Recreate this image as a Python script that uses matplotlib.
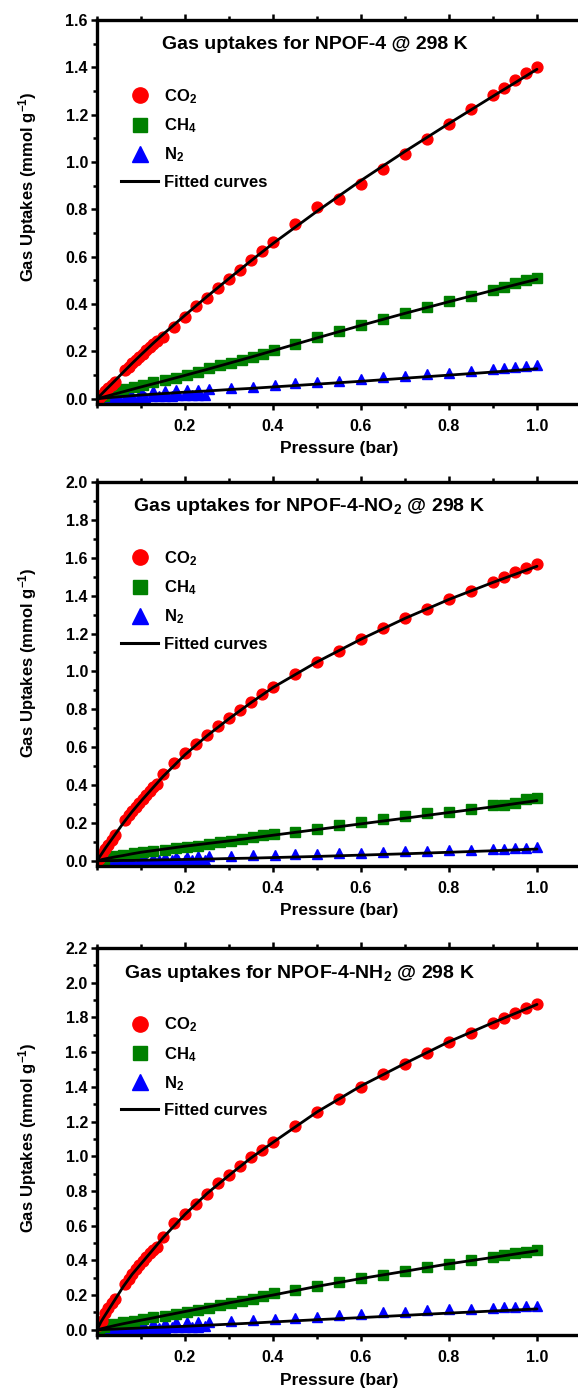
import matplotlib
matplotlib.use("Agg")
import matplotlib.pyplot as plt
from matplotlib.lines import Line2D
from matplotlib.ticker import MultipleLocator

plt.rcParams['font.family'] = ['Liberation Sans', 'DejaVu Sans']
plt.rcParams['font.weight'] = 'bold'
plt.rcParams['mathtext.fontset'] = 'custom'
plt.rcParams['mathtext.rm'] = 'Liberation Sans:bold'
plt.rcParams['mathtext.it'] = 'Liberation Sans:bold'
plt.rcParams['mathtext.bf'] = 'Liberation Sans:bold'

# pressure points (bar)
p_co2 = [0.005, 0.012, 0.019, 0.026, 0.033, 0.04, 0.064, 0.072, 0.08, 0.088, 0.096, 0.104,
         0.112, 0.12, 0.128, 0.136, 0.15, 0.175, 0.2, 0.225, 0.25, 0.275, 0.3, 0.325, 0.35,
         0.375, 0.4, 0.45, 0.5, 0.55, 0.6, 0.65, 0.7, 0.75, 0.8, 0.85, 0.9, 0.925, 0.95,
         0.975, 1.0]
p_ch4 = [0.005, 0.015, 0.037, 0.06, 0.083, 0.105, 0.128, 0.155, 0.18, 0.205, 0.23, 0.255,
         0.28, 0.305, 0.33, 0.355, 0.378, 0.403, 0.45, 0.5, 0.55, 0.6, 0.65, 0.7, 0.75, 0.8,
         0.85, 0.9, 0.925, 0.95, 0.975, 1.0]
p_n2 = [0.014, 0.033, 0.052, 0.075, 0.1, 0.128, 0.155, 0.18, 0.205, 0.23, 0.255, 0.305,
        0.355, 0.405, 0.45, 0.5, 0.55, 0.6, 0.65, 0.7, 0.75, 0.8, 0.85, 0.9, 0.925, 0.95,
        0.975, 1.0]
p_n2_low = [0.005, 0.02, 0.035, 0.05, 0.065, 0.08, 0.095, 0.11, 0.125, 0.14, 0.155, 0.17,
            0.185, 0.2, 0.215, 0.23, 0.245]
p_fit = [0, 0.01, 0.02, 0.04, 0.06, 0.08, 0.1, 0.125, 0.15, 0.2, 0.25, 0.3, 0.35, 0.4,
         0.5, 0.6, 0.7, 0.8, 0.9, 1.0]

# NPOF-4
co2_a = [0.004, 0.018, 0.031, 0.045, 0.059, 0.07, 0.122, 0.136, 0.15, 0.164, 0.178, 0.191,
         0.205, 0.218, 0.231, 0.243, 0.263, 0.305, 0.347, 0.393, 0.427, 0.467, 0.505, 0.545,
         0.587, 0.625, 0.664, 0.739, 0.81, 0.844, 0.908, 0.971, 1.034, 1.096, 1.159, 1.223,
         1.283, 1.311, 1.347, 1.378, 1.403]
ch4_a = [0.003, 0.01, 0.031, 0.041, 0.049, 0.059, 0.069, 0.08, 0.087, 0.101, 0.115, 0.13,
         0.144, 0.153, 0.165, 0.176, 0.19, 0.207, 0.232, 0.26, 0.287, 0.312, 0.338, 0.362,
         0.387, 0.414, 0.436, 0.46, 0.474, 0.488, 0.5, 0.512]
n2_a = [0.02, 0.025, 0.028, 0.03, 0.032, 0.034, 0.035, 0.036, 0.038, 0.039, 0.041, 0.045,
        0.049, 0.057, 0.066, 0.07, 0.077, 0.083, 0.09, 0.097, 0.104, 0.111, 0.118, 0.127,
        0.13, 0.135, 0.139, 0.141]
n2_low_a = [0.002, 0.003, 0.004, 0.005, 0.006, 0.007, 0.008, 0.009, 0.01, 0.011, 0.012,
            0.013, 0.014, 0.015, 0.016, 0.017, 0.018]
co2_fit_a = [0, 0.019, 0.038, 0.075, 0.113, 0.15, 0.186, 0.23, 0.272, 0.353, 0.432, 0.508,
             0.583, 0.656, 0.792, 0.922, 1.045, 1.163, 1.278, 1.392]
ch4_fit_a = [0, 0.005, 0.01, 0.02, 0.03, 0.04, 0.05, 0.062, 0.074, 0.099, 0.124, 0.15,
             0.176, 0.203, 0.257, 0.31, 0.361, 0.41, 0.458, 0.505]
n2_fit_a = [0, 0.002, 0.004, 0.007, 0.01, 0.013, 0.016, 0.019, 0.022, 0.028, 0.033, 0.039,
            0.044, 0.05, 0.062, 0.074, 0.087, 0.1, 0.113, 0.127]

# NPOF-4-NO2
co2_b = [0.012, 0.035, 0.06, 0.085, 0.11, 0.137, 0.215, 0.24, 0.262, 0.285, 0.307, 0.328,
         0.35, 0.37, 0.388, 0.405, 0.459, 0.515, 0.568, 0.617, 0.665, 0.71, 0.755, 0.797,
         0.838, 0.88, 0.918, 0.985, 1.048, 1.11, 1.171, 1.228, 1.281, 1.331, 1.381, 1.426,
         1.474, 1.497, 1.523, 1.548, 1.567]
ch4_b = [0.003, 0.012, 0.025, 0.032, 0.04, 0.046, 0.054, 0.058, 0.067, 0.072, 0.079, 0.088,
         0.097, 0.107, 0.116, 0.125, 0.134, 0.14, 0.151, 0.169, 0.19, 0.204, 0.222, 0.239,
         0.252, 0.26, 0.273, 0.292, 0.296, 0.304, 0.326, 0.334]
n2_b = [0.008, 0.01, 0.012, 0.013, 0.015, 0.016, 0.018, 0.02, 0.021, 0.023, 0.024, 0.027,
        0.029, 0.032, 0.034, 0.036, 0.04, 0.042, 0.046, 0.05, 0.053, 0.056, 0.059, 0.063,
        0.064, 0.068, 0.07, 0.073]
n2_low_b = [0.0, 0.0, 0.0, 0.001, 0.001, 0.001, 0.001, 0.002, 0.002, 0.002, 0.002, 0.003,
            0.003, 0.003, 0.003, 0.004, 0.004]
co2_fit_b = [0, 0.035, 0.07, 0.135, 0.2, 0.26, 0.315, 0.38, 0.445, 0.56, 0.66, 0.75, 0.835,
             0.915, 1.05, 1.17, 1.28, 1.38, 1.47, 1.555]
ch4_fit_b = [0, 0.006, 0.011, 0.02, 0.028, 0.037, 0.045, 0.053, 0.061, 0.077, 0.091, 0.105,
             0.12, 0.135, 0.165, 0.195, 0.225, 0.255, 0.285, 0.318]
n2_fit_b = [0, 0, 0.001, 0.001, 0.002, 0.002, 0.003, 0.004, 0.005, 0.007, 0.009, 0.012,
            0.014, 0.017, 0.023, 0.03, 0.037, 0.045, 0.053, 0.062]

# NPOF-4-NH2
co2_c = [0.025, 0.05, 0.096, 0.125, 0.155, 0.175, 0.265, 0.295, 0.322, 0.35, 0.372, 0.395,
         0.418, 0.44, 0.458, 0.478, 0.536, 0.613, 0.667, 0.724, 0.785, 0.843, 0.891, 0.945,
         0.996, 1.034, 1.08, 1.172, 1.255, 1.328, 1.398, 1.471, 1.533, 1.594, 1.661, 1.711,
         1.769, 1.797, 1.826, 1.855, 1.878]
ch4_c = [0.005, 0.015, 0.032, 0.042, 0.052, 0.061, 0.071, 0.08, 0.088, 0.103, 0.112, 0.128,
         0.14, 0.155, 0.165, 0.178, 0.192, 0.21, 0.23, 0.253, 0.278, 0.301, 0.316, 0.341,
         0.36, 0.377, 0.402, 0.421, 0.43, 0.44, 0.45, 0.46]
n2_c = [0.015, 0.02, 0.025, 0.03, 0.035, 0.037, 0.04, 0.042, 0.043, 0.045, 0.046, 0.05,
        0.055, 0.06, 0.068, 0.075, 0.085, 0.09, 0.1, 0.105, 0.112, 0.117, 0.122, 0.128,
        0.13, 0.132, 0.134, 0.137]
n2_low_c = [0.001, 0.002, 0.003, 0.004, 0.005, 0.006, 0.008, 0.009, 0.01, 0.011, 0.012,
            0.013, 0.015, 0.016, 0.017, 0.018, 0.019]
co2_fit_c = [0, 0.05, 0.09, 0.17, 0.25, 0.32, 0.38, 0.455, 0.53, 0.665, 0.785, 0.89, 0.99,
             1.08, 1.255, 1.405, 1.535, 1.66, 1.77, 1.875]
ch4_fit_c = [0, 0.006, 0.012, 0.024, 0.035, 0.045, 0.055, 0.067, 0.08, 0.105, 0.13, 0.155,
             0.178, 0.2, 0.25, 0.295, 0.337, 0.38, 0.417, 0.455]
n2_fit_c = [0, 0.001, 0.002, 0.004, 0.006, 0.008, 0.01, 0.013, 0.015, 0.02, 0.026, 0.032,
            0.038, 0.045, 0.058, 0.07, 0.083, 0.096, 0.108, 0.12]

titles = ['Gas uptakes for NPOF-4 @ 298 K',
          'Gas uptakes for NPOF-4-NO$_2$ @ 298 K',
          'Gas uptakes for NPOF-4-NH$_2$ @ 298 K']
y_tops = [1.6, 2.0, 2.2]

RED, GREEN, BLUE = '#ff0000', '#008000', '#0000ff'

W, H = 578, 1389
fig = plt.figure(figsize=(W / 100, H / 100), dpi=100)

# axes boxes in pixels: left, top, bottom
boxes = [(97, 20, 404), (97, 482, 866), (97, 948, 1335)]
title_x = [0.134, 0.074, 0.056]
ylabel_y = [0.565, 0.53, 0.51]


def draw_panel(ax, co2, ch4, n2, n2_low, co2_fit, ch4_fit, n2_fit, title, ytop, tx, ly):
    ax.plot(p_n2_low, n2_low, ls='none', marker='^', ms=7, color=BLUE, mec=BLUE)
    ax.plot(p_n2, n2, ls='none', marker='^', ms=7.5, color=BLUE, mec=BLUE)
    ax.plot(p_ch4, ch4, ls='none', marker='s', ms=6.8, color=GREEN, mec=GREEN)
    ax.plot(p_co2, co2, ls='none', marker='o', ms=7.8, color=RED, mec=RED)
    for fit in (co2_fit, ch4_fit, n2_fit):
        ax.plot(p_fit, fit, color='black', lw=2.0, solid_capstyle='round')

    ax.set_xlim(0, 1.1)
    ax.set_ylim(-0.022 * ytop / 1.6, ytop)
    ax.xaxis.set_minor_locator(MultipleLocator(0.1))
    ax.yaxis.set_major_locator(MultipleLocator(0.2))
    ax.yaxis.set_minor_locator(MultipleLocator(0.1))
    ax.set_xticks([0.2, 0.4, 0.6, 0.8, 1.0])
    ax.set_xticklabels(['0.2', '0.4', '0.6', '0.8', '1.0'])
    ax.set_yticklabels([f'{v:.1f}' for v in ax.get_yticks()])
    ax.tick_params(axis='both', which='major', direction='out', length=4, width=1.8,
                   labelsize=11.5, top=True, right=False)
    ax.tick_params(axis='both', which='minor', direction='out', length=3, width=1.8,
                   top=True, right=False)
    ax.tick_params(axis='x', which='major', pad=7)
    ax.tick_params(axis='y', which='major', pad=2.5)
    ax.spines['right'].set_visible(False)
    for s in ('left', 'top', 'bottom'):
        ax.spines[s].set_linewidth(2.4)

    ax.set_xlabel('Pressure (bar)', fontsize=12.5, fontweight='bold')
    ax.set_ylabel('Gas Uptakes (mmol g$^{-1}$)', fontsize=12, fontweight='bold')
    ax.xaxis.set_label_coords(0.5, -0.097)
    ax.yaxis.set_label_coords(-0.12, ly)

    ax.text(tx, 0.935, title, transform=ax.transAxes, ha='left', va='center',
            fontsize=14, fontweight='bold')

    handles = [
        Line2D([], [], ls='none', marker='o', ms=11, color=RED),
        Line2D([], [], ls='none', marker='s', ms=9.5, color=GREEN),
        Line2D([], [], ls='none', marker='^', ms=11, color=BLUE),
        Line2D([], [], color='black', lw=2.2),
    ]
    labels = ['CO$_2$', 'CH$_4$', 'N$_2$', 'Fitted curves']
    ax.legend(handles, labels, loc='upper left', bbox_to_anchor=(0.05, 0.825),
              frameon=False, fontsize=12, handlelength=2.2, handletextpad=0.35,
              labelspacing=0.63, borderpad=0, borderaxespad=0)


panels = [
    (co2_a, ch4_a, n2_a, n2_low_a, co2_fit_a, ch4_fit_a, n2_fit_a),
    (co2_b, ch4_b, n2_b, n2_low_b, co2_fit_b, ch4_fit_b, n2_fit_b),
    (co2_c, ch4_c, n2_c, n2_low_c, co2_fit_c, ch4_fit_c, n2_fit_c),
]

for (left, top, bottom), data, title, ytop, tx, ly in zip(boxes, panels, titles, y_tops,
                                                          title_x, ylabel_y):
    ax = fig.add_axes([left / W, 1 - bottom / H, 484 / W, (bottom - top) / H])
    draw_panel(ax, *data, title, ytop, tx, ly)

fig.savefig('out.png', dpi=100)
